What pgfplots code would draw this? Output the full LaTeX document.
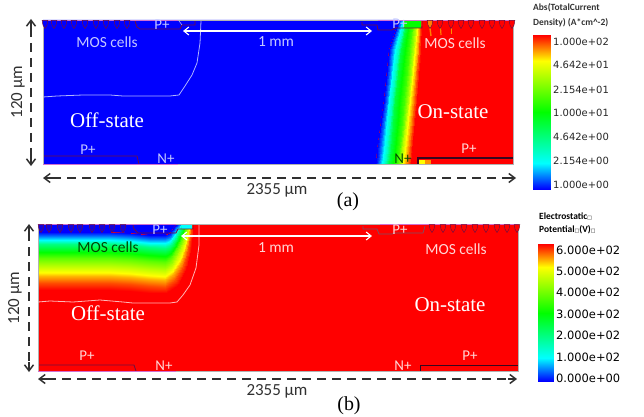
\documentclass[border=0pt]{standalone}
\usepackage{fontspec}
\setmainfont{Carlito}
\newfontfamily\rmf{Liberation Serif}
\newfontfamily\dv{DejaVu Sans}
\usepackage{pgfplots}
\usepackage{pgfplotstable}
\pgfplotsset{compat=1.18}
\usetikzlibrary{arrows.meta}
\pgfdeclareplotmark{cell}{%
  \pgfpathmoveto{\pgfqpoint{-2.8bp}{-0.5bp}}%
  \pgfpathcurveto{\pgfqpoint{-3bp}{-4bp}}{\pgfqpoint{-1.5bp}{-6.5bp}}{\pgfqpoint{0bp}{-8.5bp}}%
  \pgfpathcurveto{\pgfqpoint{1.5bp}{-6.5bp}}{\pgfqpoint{3bp}{-4bp}}{\pgfqpoint{2.8bp}{-0.5bp}}%
  \pgfpathclose\pgfusepathqfillstroke}
\pgfplotstableread{
xa  ya    xb  yb     c
533 35    538 244    1
550 35    553 244    1
533 73.5  538 278.25 .75
550 73.5  553 278.25 .75
533 112   538 312.5  .50
550 112   553 312.5  .50
533 150.5 538 346.75 .25
550 150.5 553 346.75 .25
533 189   538 381    0
550 189   553 381    0
}\barT
% current-density field of panel (a): columns of equal level, rows of equal depth
\pgfplotstableread{
x y c
399 20 0
401 20 .08
403 20 .17
405 20 .25
407 20 .42
413 20 .58
416 20 .72
418 20 .83
420 20 .90
421 20 .95
422 20 1
389 50 0
392 50 .08
395 50 .17
398 50 .25
401 50 .42
409 50 .58
413 50 .72
415 50 .83
418 50 .90
419 50 .95
421 50 1
384 100 0
387 100 .08
389 100 .17
392 100 .25
395 100 .42
404 100 .58
408 100 .72
410 100 .83
413 100 .90
415 100 .95
417 100 1
377 150 0
381 150 .08
384 150 .17
387 150 .25
391 150 .42
399 150 .58
402 150 .72
405 150 .83
408 150 .90
410 150 .95
412 150 1
376 164 0
379 164 .08
382 164 .17
385 164 .25
389 164 .42
397 164 .58
401 164 .72
403 164 .83
406 164 .90
409 164 .95
411 164 1
}\fieldA
% potential field of panel (b): rows of equal level
\pgfplotstableread{
x y c
38 232 0
110 232 0
130 233 0
150 235 0
165 235 0
170 233 0
172 230 0
174 227 0
177 224 0
38 236 .08
110 236 .08
130 237 .08
150 239 .08
165 239 .08
170 237 .08
173 233 .08
176 228 .08
180 224 .08
38 240 .17
110 240 .17
130 241 .17
150 243 .17
165 243 .17
170 241 .17
174 236 .17
177 230 .17
182 224 .17
38 244 .33
110 244 .33
130 245 .33
150 247 .33
165 248 .33
170 246 .33
175 240 .33
179 232 .33
184 224 .33
38 258 .62
110 258 .62
130 259 .62
150 261 .62
165 262 .62
171 258 .62
176 250 .62
182 238 .62
187 224 .62
38 266 .74
110 266 .74
130 267 .74
150 269 .74
165 270 .74
172 265 .74
178 255 .74
184 241 .74
189 224 .74
38 276 .88
110 276 .88
130 277 .88
150 279 .88
165 280 .88
173 274 .88
181 262 .88
186 247 .88
191 224 .88
38 283 .95
110 283 .95
130 284 .95
150 286 .95
165 287 .95
175 280 .95
183 267 .95
188 250 .95
192 224 .95
38 290 1
110 290 1
130 291 1
150 293 1
166 293 1
178 285 1
186 270 1
191 250 1
193 224 1
}\fieldB
\definecolor{cb}{HTML}{FF9000}\definecolor{cc}{HTML}{FFFF00}
\definecolor{cf}{HTML}{00FF00}\definecolor{ck}{HTML}{0000FF}
\definecolor{pg}{HTML}{00FFFF}
\definecolor{mar}{HTML}{701040}\definecolor{mag}{HTML}{D070D0}
\definecolor{paleB}{HTML}{C4C8FF}\definecolor{paleR}{HTML}{FFD6D6}
\definecolor{dash}{HTML}{303030}
\newcommand{\T}[4]{\node[text=#3,inner sep=0pt,anchor=center] at (axis cs:#1,#2) {#4};}
\newcommand{\sz}[1]{\fontsize{#1}{#1}\selectfont}
\newcommand{\bx}{{\dv\fontsize{5}{5}\selectfont □}}
\begin{document}
\begin{tikzpicture}
\useasboundingbox (0,0) rectangle (644bp,417bp);
\begin{axis}[scale only axis,width=644bp,height=417bp,xmin=0,xmax=644,ymin=0,ymax=417,
  y dir=reverse,hide axis,clip=false,
  colormap={tcad}{rgb(0)=(0,0,1) rgb(17)=(0,1,1) rgb(50)=(0,1,0) rgb(83)=(1,1,0) rgb(100)=(1,0,0)},
  point meta min=0,point meta max=1]
% panel (a)
\addplot[draw=none,fill=red] coordinates {(43,20)(513,20)(513,164)(43,164)} -- cycle;
\addplot[draw=none,fill=ck] coordinates {(43,20)(399,20)(389,50)(384,100)(377,150)(376,164)(43,164)} -- cycle;
\addplot[surf,shader=interp,mesh/rows=5,point meta=explicit] table[x=x,y=y,meta=c] {\fieldA};
\addplot[draw=none,fill=cf] coordinates {(404,21)(421,21)(421,28)(404,28)} -- cycle;
\addplot[draw=none,fill=cb] coordinates {(419,160)(431,160)(431,164)(419,164)} -- cycle;
\addplot[draw=none,fill=cc] coordinates {(419,160)(425,160)(425,164)(419,164)} -- cycle;
% orange tails under the first on-state cells
\addplot[draw=orange,line width=1.4pt] coordinates {(430,28)(431,36)};
\addplot[draw=orange,line width=1.2pt] coordinates {(440.5,28)(441,35)};
\addplot[draw=cb,line width=1pt] coordinates {(451,28)(451,34)};
% cells (a)
\addplot[only marks,mark=cell,mark options={fill=ck,draw=mar,line width=.5pt}] coordinates {(45,20)(54,20)(64,20)(74,20)(85,20)(96,20)(106,20)(117,20)(127,20)};
\addplot[only marks,mark=cell,mark options={fill=red,draw=mar,line width=.5pt}] coordinates {(440,20)(451,20)(461,20)(471,20)(482,20)(492,20)(502,20)(512,20)};
\addplot[only marks,mark=cell,mark options={fill=orange,draw=mar,line width=.5pt}] coordinates {(430,20)};
% plate outlines (a)
\addplot[draw=mar,line width=.8pt] coordinates {(135,21)(137,27)(140,29)(180,29)(182,25)(195,25)(195,21)};
\addplot[draw=paleB,line width=.5pt] coordinates {(179,21)(182,25)};
\addplot[draw=mar,line width=.8pt] coordinates {(362,22)(362,25)(377,25)(378,30)(392,30)(395,28)(422,28)(422,21)};
\addplot[draw=mar,line width=.8pt] coordinates {(43,156)(137,156)(139,164)};
\addplot[draw=black!50!mar,line width=1.1pt] coordinates {(418,164)(418,158)(513,158)};
% boundary (a)
\addplot[draw=gray!60,line width=.6pt] coordinates {(43,20)(43,164)(513,164)(513,20)(43,20)};
\addplot[draw=mag,line width=.6pt] coordinates {(43,20)(178,20)};
\addplot[draw=mag,line width=.6pt] coordinates {(378,20)(513,20)};
\addplot[draw=mag,line width=.6pt] coordinates {(43,164)(178,164)};
% depletion edge (a)
\addplot[draw=paleB!90!blue,line width=.8pt] coordinates {(201,21)(200,43)(197,63)(192,75)(185,86)(179,95)(170,96)(123,96)(110,95)(83,95)(57,96)(43,97)};
% panel (b)
\addplot[draw=none,fill=red] coordinates {(38,224)(518,224)(518,371)(38,371)} -- cycle;
\addplot[draw=none,fill=ck] coordinates {(38,224)(38,232)(110,232)(130,233)(150,235)(165,235)(170,233)(172,230)(174,227)(177,224)} -- cycle;
\addplot[surf,shader=interp,mesh/rows=9,point meta=explicit] table[x=x,y=y,meta=c] {\fieldB};
\addplot[draw=none,fill=pg] coordinates {(182,224)(192,224)(192,229)(182,229)} -- cycle;
% cells (b)
\addplot[only marks,mark=cell,mark options={fill=ck!80!mar,draw=mar,line width=.5pt}] coordinates {(41,224)(49,224)(60,224)(71,224)(80,224)(92,224)(102,224)(112,224)(123,224)};
\addplot[only marks,mark=cell,mark options={fill=red,draw=mar,line width=.5pt}] coordinates {(432,224)(443,224)(453,224)(464,224)(475,224)(486,224)(497,224)(507,224)(517,224)};
% plate outlines (b)
\addplot[draw=mar,line width=.8pt] coordinates {(133,225)(134,229)(138,233)(176,233)(178,229)(193,229)(193,225)};
\addplot[draw=gray!60!mar,line width=.7pt] coordinates {(363,226)(363,229)(377,229)(379,234)(392,234)(395,233)(423,233)(425,226)};
\addplot[draw=mar,line width=.8pt] coordinates {(38,365)(134,365)(136,371)};
\addplot[draw=black!50!mar,line width=1pt] coordinates {(420,371)(420,365)(518,365)};
% boundary (b)
\addplot[draw=gray!60,line width=.6pt] coordinates {(38,224)(38,371)(518,371)(518,224)(38,224)};
\addplot[draw=mag,line width=.6pt] coordinates {(38,224)(176,224)};
\addplot[draw=mag,line width=.6pt] coordinates {(380,224)(518,224)};
\addplot[draw=mag,line width=.6pt] coordinates {(38,371)(176,371)};
% depletion edge (b)
\addplot[draw=paleR!85!red,line width=.8pt] coordinates {(199,225)(199,245)(196,268)(190,285)(183,295)(177,302)(170,303)(133,303)(123,302)(100,300)(73,302)(50,301)(38,302)};
% colour bars
\addplot[surf,shader=interp,mesh/rows=5,point meta=explicit] table[x=xa,y=ya,meta=c] {\barT};
\addplot[surf,shader=interp,mesh/rows=5,point meta=explicit] table[x=xb,y=yb,meta=c] {\barT};
% dimension arrows
\tikzset{dim/.style={draw=dash,line width=1.5pt,dash pattern=on 9bp off 6bp},
  hd/.style={-{Straight Barb[length=6bp,width=9bp]},draw=dash,line width=1.5pt}}
\draw[dim] (axis cs:31,28)--(axis cs:31,158);
\draw[hd] (axis cs:31,30)--(axis cs:31,19);
\draw[hd] (axis cs:31,155)--(axis cs:31,166);
\draw[dim] (axis cs:52,178)--(axis cs:506,178);
\draw[hd] (axis cs:52,178)--(axis cs:43,178);
\draw[hd] (axis cs:506,178)--(axis cs:516,178);
\draw[dim] (axis cs:29,232)--(axis cs:29,364);
\draw[hd] (axis cs:29,234)--(axis cs:29,224);
\draw[hd] (axis cs:29,362)--(axis cs:29,372);
\draw[dim] (axis cs:47,379)--(axis cs:508,379);
\draw[hd] (axis cs:47,379)--(axis cs:38,379);
\draw[hd] (axis cs:508,379)--(axis cs:517,379);
% 1 mm arrows
\draw[{Straight Barb[length=5bp,width=8bp]}-{Straight Barb[length=5bp,width=8bp]},draw=white,line width=1.1pt] (axis cs:183,31)--(axis cs:372,31);
\draw[{Straight Barb[length=5bp,width=8bp]}-{Straight Barb[length=5bp,width=8bp]},draw=white,line width=1.1pt] (axis cs:181,236)--(axis cs:372,236);
% texts (a)
\T{107}{42}{paleB}{\sz{15.5}MOS cells}
\T{276}{42}{paleB}{\sz{15.5}1 mm}
\T{107}{120}{white}{\rmf\sz{21}Off-state}
\T{88}{150}{paleB}{\sz{15}P+}
\T{166}{159}{paleB}{\sz{15}N+}
\T{162}{25}{paleB}{\sz{15}P+}
\T{400}{24}{paleB}{\sz{15}P+}
\T{455}{43}{paleR}{\sz{15.5}MOS cells}
\T{453}{112}{white}{\rmf\sz{21}On-state}
\T{403}{159}{black!70!green}{\sz{15}N+}
\T{469}{149}{paleR}{\sz{15}P+}
\node[text=dash,rotate=90,inner sep=0pt] at (axis cs:18,92) {\sz{17}120 µm};
\T{277}{190}{dash}{\sz{17}2355 µm}
\T{348}{202}{black}{\rmf\sz{20}(a)}
% texts (b)
\T{108}{247}{black!60!green!70!black}{\sz{15.5}MOS cells}
\T{276}{248}{paleR}{\sz{15.5}1 mm}
\T{108}{313}{white}{\rmf\sz{21}Off-state}
\T{87}{356}{paleR}{\sz{15}P+}
\T{164}{366}{paleR}{\sz{15}N+}
\T{160}{230}{paleB}{\sz{15}P+}
\T{400}{230}{paleR}{\sz{15}P+}
\T{456}{249}{paleR}{\sz{15.5}MOS cells}
\T{450}{305}{white}{\rmf\sz{21}On-state}
\T{403}{366}{paleR}{\sz{15}N+}
\T{470}{356}{paleR}{\sz{15}P+}
\node[text=dash,rotate=90,inner sep=0pt] at (axis cs:15,298) {\sz{17}120 µm};
\T{277}{391}{dash}{\sz{17}2355 µm}
\T{349}{406}{black}{\rmf\sz{20}(b)}
% legend (a)
\node[anchor=west,inner sep=0pt,text=black!80] at (axis cs:533,8) {\sz{9.5}\bfseries Abs(TotalCurrent};
\node[anchor=west,inner sep=0pt,text=black!80] at (axis cs:533,23) {\sz{9.5}\bfseries Density) (A*cm\textasciicircum-2)};
\foreach \y/\s in {42/1.000e+02,65/4.642e+01,90/2.154e+01,113/1.000e+01,137/4.642e+00,161/2.154e+00,185/1.000e+00}
 {\edef\tmp{\noexpand\node[anchor=west,inner sep=0pt,text=black!85] at (axis cs:553,\y) {\noexpand\dv\noexpand\sz{10}\s};}\tmp}
% legend (b)
\node[anchor=west,inner sep=0pt] at (axis cs:539,216) {\sz{9.5}\bfseries Electrostatic\bx};
\node[anchor=west,inner sep=0pt] at (axis cs:539,230) {\sz{9.5}\bfseries Potential\bx(V)\bx};
\foreach \y/\s in {250/6.000e+02,271/5.000e+02,292/4.000e+02,314/3.000e+02,335/2.000e+02,357/1.000e+02,378/0.000e+00}
 {\edef\tmp{\noexpand\node[anchor=west,inner sep=0pt] at (axis cs:556,\y) {\noexpand\dv\noexpand\sz{11.5}\s};}\tmp}
\end{axis}
\end{tikzpicture}
\end{document}
